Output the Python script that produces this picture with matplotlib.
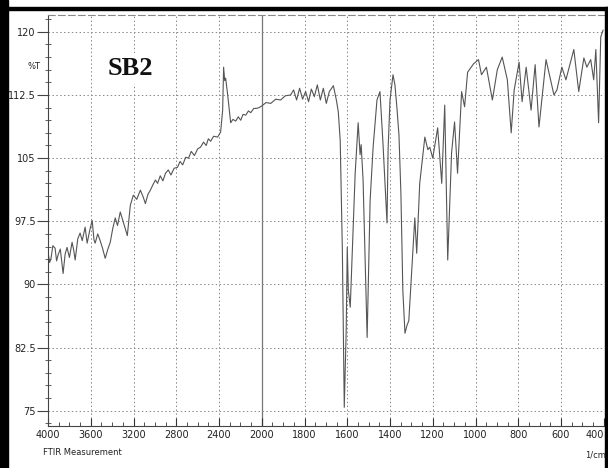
import numpy as np
import matplotlib
matplotlib.use("Agg")
from matplotlib import pyplot as plt
from matplotlib.patches import Rectangle
from matplotlib.ticker import FixedLocator, FuncFormatter

# wavenumber (1/cm) and transmittance (%T)
wavenumber = [4000, 3985, 3972, 3955, 3934, 3920, 3906, 3885, 3859, 3840,
              3822, 3800, 3775, 3760, 3746, 3722, 3700, 3680, 3653, 3634,
              3610, 3587, 3570, 3559, 3535, 3512, 3490, 3465, 3440, 3418,
              3395, 3371, 3350, 3324, 3296, 3258, 3230, 3202, 3170, 3136,
              3110, 3089, 3065, 3042, 3020, 2995, 2975, 2950, 2925, 2901,
              2875, 2850, 2820, 2789, 2765, 2740, 2712, 2685, 2660, 2630,
              2600, 2573, 2545, 2520, 2500, 2479, 2450, 2413, 2385, 2366,
              2357, 2347, 2338, 2319, 2291, 2270, 2244, 2220, 2197, 2175,
              2150, 2125, 2103, 2075, 2050, 2025, 2000,
              1980, 1958, 1935, 1912, 1890, 1865, 1851, 1837, 1823, 1809,
              1795, 1781, 1768, 1754, 1740, 1726, 1712, 1698, 1684, 1665,
              1651, 1642, 1633, 1623, 1614, 1605, 1600, 1595, 1586, 1572,
              1563, 1549, 1540, 1535, 1526, 1507, 1493, 1479, 1461, 1447,
              1433, 1414, 1409, 1400, 1386, 1377, 1368, 1358, 1349, 1340,
              1330, 1321, 1312, 1298, 1284, 1275, 1261, 1237, 1223, 1214,
              1200, 1177, 1158, 1144, 1130, 1112, 1098, 1084, 1065, 1051,
              1037, 1009, 1000, 986, 972, 949, 921, 898, 875, 851,
              833, 819, 796, 782, 763, 740, 721, 703, 670, 656,
              633, 619, 596, 577, 540, 517, 493, 479, 461, 447,
              437, 424, 414, 403]
transmittance = [93.8, 92.6, 93.1, 94.6, 94.3, 92.8, 93.5, 94.2, 91.3, 93.6,
                 94.4, 93.2, 95.0, 94.1, 92.9, 95.4, 96.1, 95.2, 96.8, 94.9,
                 96.4, 97.6, 95.3, 94.9, 96.0, 95.2, 94.3, 93.1, 94.2, 95.0,
                 96.6, 97.9, 97.0, 98.6, 97.4, 95.8, 99.4, 100.6, 100.1, 101.2,
                 100.4, 99.6, 100.7, 101.2, 101.8, 102.4, 102.0, 102.9, 102.3, 103.2,
                 103.6, 103.0, 103.8, 103.9, 104.6, 104.2, 105.1, 105.0, 105.8, 105.3,
                 106.1, 106.3, 106.9, 106.5, 107.3, 107.0, 107.6, 107.5, 108.1, 110.7,
                 115.8, 114.2, 114.5, 112.5, 109.2, 109.6, 109.4, 109.9, 109.5, 110.2,
                 110.1, 110.6, 110.4, 110.9, 110.9, 111.0, 111.2,
                 111.6, 111.5, 112.0, 111.9, 112.4, 112.5, 113.1, 111.9, 113.3, 112.0,
                 112.9, 111.7, 113.2, 112.3, 113.7, 111.9, 113.3, 111.5, 112.9, 113.6,
                 111.9, 110.5, 107.1, 94.1, 75.4, 84.5, 94.4, 89.3, 87.3, 96.8,
                 103.2, 109.2, 105.4, 106.6, 102.4, 83.7, 100.0, 106.3, 111.9, 112.9,
                 106.8, 97.3, 106.0, 111.9, 114.9, 113.7, 111.1, 107.7, 100.8, 89.3,
                 84.2, 85.1, 85.7, 91.7, 97.9, 93.7, 102.0, 107.5, 106.0, 106.3,
                 105.0, 108.6, 102.0, 111.3, 92.9, 105.6, 109.3, 103.2, 112.9, 111.1,
                 115.2, 116.2, 116.4, 116.7, 114.9, 115.8, 111.9, 115.5, 117.0, 114.3,
                 108.0, 113.1, 116.4, 111.7, 115.8, 110.7, 116.1, 108.7, 116.7, 115.1,
                 112.5, 113.1, 115.8, 114.3, 117.9, 112.9, 116.9, 115.8, 116.7, 114.3,
                 117.9, 109.2, 119.4, 120.2]

x_major = [4000, 3600, 3200, 2800, 2400, 2000, 1800, 1600, 1400, 1200, 1000, 800, 600, 400]
y_major = [75, 82.5, 90, 97.5, 105, 112.5, 120]


def fwd(w):
    w = np.asarray(w, dtype=float)
    return np.where(w >= 2000, 2000 + (w - 2000) / 2.0, w)


def inv(u):
    u = np.asarray(u, dtype=float)
    return np.where(u >= 2000, 2000 + (u - 2000) * 2.0, u)


fig = plt.figure(figsize=(6.08, 4.68), dpi=100)
ax = fig.add_axes([0.079, 0.09, 0.914, 0.878])
ax.set_xscale('function', functions=(fwd, inv))
ax.set_xlim(4000, 400)
ax.set_ylim(73.2, 122)

ax.plot(wavenumber, transmittance, color='#555555', lw=0.8)

ax.set_xticks(x_major, [str(w) for w in x_major])
ax.get_xticklabels()[-1].set_ha('right')
x_minor = list(range(4000, 2000, -100)) + list(range(2000, 399, -50))
ax.xaxis.set_minor_locator(FixedLocator(x_minor))
ax.yaxis.set_major_locator(FixedLocator(y_major))
ax.yaxis.set_minor_locator(FixedLocator(np.arange(73.5, 122, 1.5)))
ax.yaxis.set_major_formatter(FuncFormatter(lambda v, p: '%g' % v))

ax.tick_params(axis='x', which='major', direction='in', length=6, labelsize=7,
               color='#333333', labelcolor='#222222', pad=3)
ax.tick_params(axis='x', which='minor', direction='in', length=3, color='#333333')
ax.tick_params(axis='y', which='major', direction='out', length=8, labelsize=7,
               color='#444444', labelcolor='#222222', pad=1)
ax.tick_params(axis='y', which='minor', direction='inout', length=5, color='#444444')

for w in x_major[1:-1]:
    if w == 2000:
        ax.axvline(w, color='#777777', lw=0.9, zorder=0)
    else:
        ax.axvline(w, color='#888888', lw=0.7, ls=(0, (1.5, 2.5)), zorder=0)
for t in y_major:
    ax.axhline(t, color='#888888', lw=0.7, ls=(0, (1.5, 2.5)), zorder=0)

ax.spines['left'].set_color('#444444')
ax.spines['bottom'].set_color('#444444')
ax.spines['top'].set_color('#888888')
ax.spines['top'].set_linestyle((0, (6, 3)))
ax.spines['right'].set_visible(False)

ax.text(-0.025, 0.875, '%T', transform=ax.transAxes, fontsize=6, color='#222222',
        ha='center', va='center')
ax.text(0.148, 0.87, 'SB2', transform=ax.transAxes, fontsize=19, fontweight='bold',
        family='Liberation Serif', color='#111111', ha='center', va='center',
        bbox=dict(facecolor='white', edgecolor='none', pad=3))
fig.text(0.07, 0.033, 'FTIR Measurement', fontsize=6, color='#222222', ha='left', va='center')
fig.text(0.962, 0.027, '1/cm', fontsize=6, color='#222222', ha='left', va='center')

# scanned page border
fig.add_artist(Rectangle((0, 0), 0.013, 1, transform=fig.transFigure, color='black'))
fig.add_artist(Rectangle((0, 0.978), 1, 0.006, transform=fig.transFigure, color='black'))
fig.add_artist(Rectangle((0.995, 0), 0.005, 0.984, transform=fig.transFigure, color='black'))

fig.savefig('out.png', dpi=100)
